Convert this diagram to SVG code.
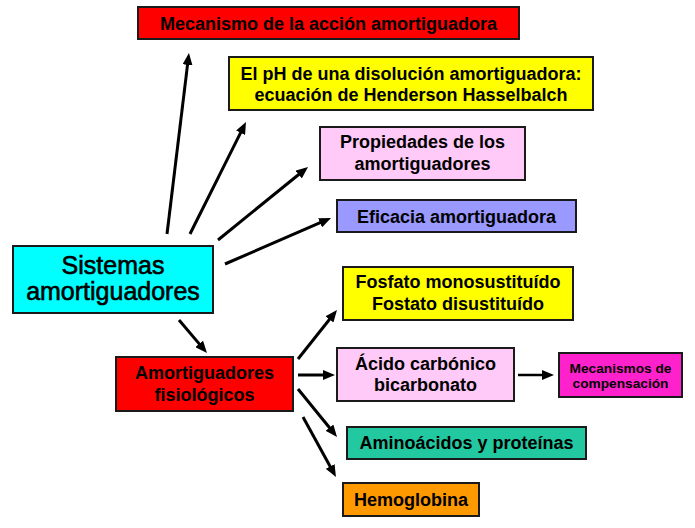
<svg xmlns="http://www.w3.org/2000/svg" width="695" height="528" viewBox="0 0 695 528">
<style>
.box{stroke:#1a1a1a;stroke-width:2}
.t{font-family:"Liberation Sans",Arial,sans-serif;font-weight:bold;font-size:18px;fill:#000;text-anchor:middle}
.big{font-family:"Liberation Sans",Arial,sans-serif;font-weight:normal;font-size:25px;fill:#000;stroke:#000;stroke-width:0.6;text-anchor:middle}
.sm{font-size:13.7px}
.c line{stroke:#000;stroke-width:3;marker-end:url(#ah)}
</style>
<defs>
<marker id="ah" markerUnits="userSpaceOnUse" markerWidth="12" markerHeight="10" viewBox="0 0 12 10" refX="4" refY="5" orient="auto">
<path d="M0,0 L12,5 L0,10 z" fill="#000"/>
</marker>
</defs>
<rect width="695" height="528" fill="#fff"/>
<g id="n-mecanismo">
<rect class="box" x="138" y="7" width="381" height="32" fill="#FF0000"/>
<text class="t" x="328.5" y="30">Mecanismo de la acción amortiguadora</text>
</g>
<g id="n-ph">
<rect class="box" x="229" y="57" width="364" height="53" fill="#FFFF00"/>
<text class="t" x="411" y="80">El pH de una disolución amortiguadora:</text>
<text class="t" x="411" y="101">ecuación de Henderson Hasselbalch</text>
</g>
<g id="n-propiedades">
<rect class="box" x="320" y="127" width="205" height="53" fill="#FFCAF8"/>
<text class="t" x="422.5" y="148">Propiedades de los</text>
<text class="t" x="422.5" y="170">amortiguadores</text>
</g>
<g id="n-eficacia">
<rect class="box" x="337" y="200" width="239" height="32" fill="#9999FF"/>
<text class="t" x="456.5" y="223">Eficacia amortiguadora</text>
</g>
<g id="n-sistemas">
<rect class="box" x="13" y="246" width="200" height="67" fill="#00FFFF"/>
<text class="big" x="113" y="274">Sistemas</text>
<text class="big" x="113" y="300">amortiguadores</text>
</g>
<g id="n-fisiologicos">
<rect class="box" x="116" y="357" width="177" height="54" fill="#FF0000"/>
<text class="t" x="204.5" y="379">Amortiguadores</text>
<text class="t" x="204.5" y="401">fisiológicos</text>
</g>
<g id="n-fosfato">
<rect class="box" x="343" y="267" width="230" height="53" fill="#FFFF00"/>
<text class="t" x="458" y="288">Fosfato monosustituído</text>
<text class="t" x="458" y="310">Fostato disustituído</text>
</g>
<g id="n-acido">
<rect class="box" x="337" y="348" width="177" height="53" fill="#FFCAF8"/>
<text class="t" x="425.5" y="370">Ácido carbónico</text>
<text class="t" x="425.5" y="391">bicarbonato</text>
</g>
<g id="n-compensacion">
<rect class="box" x="559" y="353" width="123" height="44" fill="#FF22CC"/>
<text class="t sm" x="620.5" y="372.5">Mecanismos de</text>
<text class="t sm" x="620.5" y="388">compensación</text>
</g>
<g id="n-aminoacidos">
<rect class="box" x="347" y="427" width="239" height="32" fill="#22C8A0"/>
<text class="t" x="466.5" y="449">Aminoácidos y proteínas</text>
</g>
<g id="n-hemoglobina">
<rect class="box" x="343" y="483" width="136" height="33" fill="#FF9900"/>
<text class="t" x="411" y="506">Hemoglobina</text>
</g>
<g id="connectors" class="c">
<line x1="167" y1="234" x2="188" y2="60.9"/>
<line x1="190" y1="234" x2="242.4" y2="129.2"/>
<line x1="218" y1="240" x2="301.8" y2="172"/>
<line x1="225" y1="264" x2="323.7" y2="221.2"/>
<line x1="179" y1="320" x2="201.8" y2="346.9"/>
<line x1="298" y1="359" x2="332" y2="316.3"/>
<line x1="298" y1="375" x2="327" y2="375"/>
<line x1="298" y1="389" x2="332" y2="430.8"/>
<line x1="303" y1="417" x2="332.1" y2="470"/>
<line x1="518" y1="375" x2="546" y2="375" style="stroke-width:2.5"/>
</g>
</svg>
